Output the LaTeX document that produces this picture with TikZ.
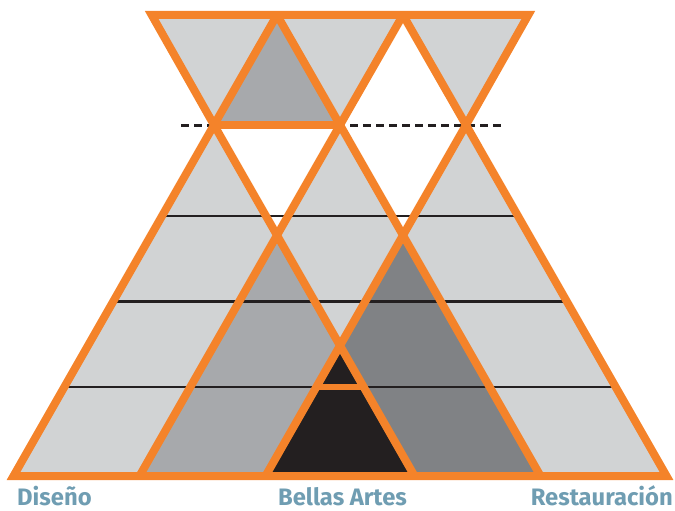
\documentclass[tikz,border=0pt]{standalone}
\usepackage{fontspec}
\setmainfont{Fira Sans}
\definecolor{orng}{RGB}{244,131,42}
\definecolor{lg}{RGB}{209,211,212}
\definecolor{mg}{RGB}{167,169,172}
\definecolor{dg}{RGB}{128,130,133}
\definecolor{bk}{RGB}{35,31,32}
\definecolor{lblc}{RGB}{111,157,178}
\begin{document}
\begin{tikzpicture}[x=1pt,y=-1pt,
  outl/.style={draw=orng,line width=8pt,line join=miter,miter limit=10},
  hline/.style={draw=bk,line width=2.2pt},
  dline/.style={draw=bk,line width=3pt,dash pattern=on 8pt off 5pt},
  lbl/.style={font=\fontsize{23.8}{24}\selectfont\bfseries,text=lblc,inner sep=0pt}]
\useasboundingbox (0,0) rectangle (675,511);
% lattice points
\coordinate (A1) at (214,125); \coordinate (A2) at (340,125); \coordinate (A3) at (466,125);
\coordinate (B1) at (13.5,476); \coordinate (B2) at (139.5,476); \coordinate (B3) at (265.5,476);
\coordinate (B4) at (414.5,476); \coordinate (B5) at (540.5,476); \coordinate (B6) at (666.5,476);
\coordinate (T1) at (151.7,15); \coordinate (T2) at (277,15); \coordinate (T3) at (403,15); \coordinate (T4) at (528.3,15);
\coordinate (X1) at (277,235.25); \coordinate (X2) at (403,235.25); \coordinate (X3) at (340,345.5);
% fills
\fill[lg] (B1)--(A1)--(B4)--cycle;
\fill[lg] (B2)--(A2)--(B5)--cycle;
\fill[lg] (B3)--(A3)--(B6)--cycle;
\fill[lg] (T1)--(T2)--(A1)--cycle;
\fill[lg] (T2)--(T3)--(A2)--cycle;
\fill[lg] (T3)--(T4)--(A3)--cycle;
\fill[mg] (T2)--(A1)--(A2)--cycle;
\fill[mg] (X1)--(B2)--(B4)--cycle;
\fill[dg] (X2)--(B3)--(B5)--cycle;
\fill[bk] (X3)--(B3)--(B4)--cycle;
% horizontal black lines
\coordinate (H1a) at (162,216); \coordinate (H1b) at (518,216);
\coordinate (H2a) at (113.2,301.5); \coordinate (H2b) at (566.8,301.5);
\coordinate (H3a) at (64.3,387); \coordinate (H3b) at (615.7,387);
\draw[hline] (H1a) -- (H1b);
\draw[hline] (H2a) -- (H2b);
\draw[hline] (H3a) -- (H3b);
% dashed line
\coordinate (D1) at (181,125); \coordinate (D2) at (502,125);
\draw[dline] (D1) -- (D2);
% orange lines
\draw[outl] (B1)--(A1)--(T1)--(T4)--(A3)--(B6)--cycle;
\draw[outl] (A1)--(T2);
\draw[outl] (A1)--(B4);
\draw[outl] (B2)--(A2)--(T3);
\draw[outl] (B5)--(A2)--(T2);
\draw[outl] (B3)--(A3);
\draw[outl] (A3)--(T3);
\draw[outl] (A1)--(A2);
\coordinate (K1) at (316.3,387); \coordinate (K2) at (363.7,387);
\draw[outl,line width=6pt] (K1)--(K2);
% labels
\node[lbl,anchor=base west] (l1) at (17,505) {Diseño};
\node[lbl,anchor=base] (l2) at (342.5,505) {Bellas Artes};
\node[lbl,anchor=base east] (l3) at (673,505) {Restauración};
\end{tikzpicture}
\end{document}
